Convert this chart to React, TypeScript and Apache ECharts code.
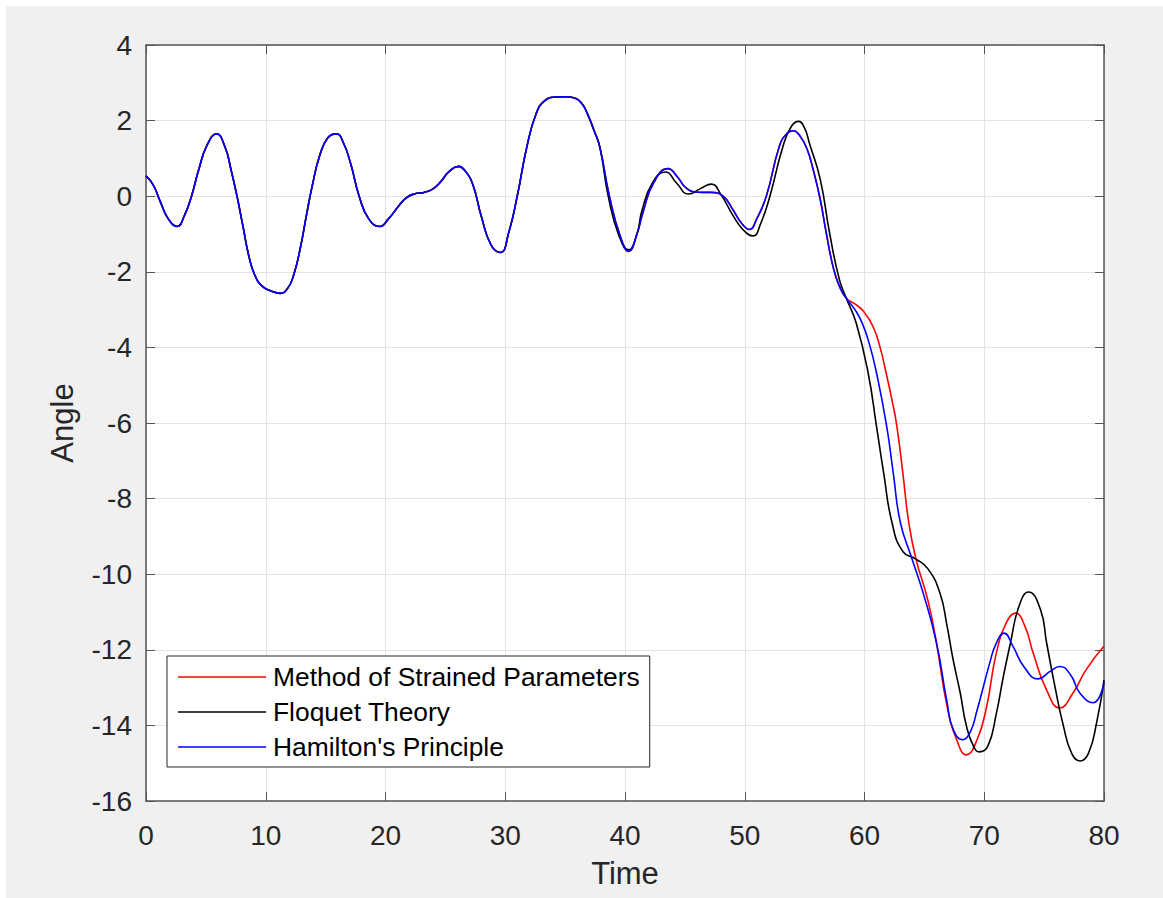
import React, { useEffect, useRef } from "react";
import * as echarts from "echarts";

// ---- data (time, angle) ----
const sharedHead: [number, number][] = [
  [0, 0.54], [0.6, 0.3], [1.2, -0.15], [1.9, -0.62], [2.6, -0.8], [3.2, -0.52], [3.8, 0.0],
  [4.4, 0.7], [5.1, 1.35], [5.9, 1.65], [6.6, 1.3], [7.1, 0.7], [7.6, 0.0], [8.1, -0.8],
  [8.6, -1.6], [9.1, -2.1], [9.7, -2.38], [10.4, -2.5], [11.2, -2.57], [11.8, -2.45],
  [12.3, -2.12], [12.9, -1.35], [13.4, -0.5], [13.9, 0.3], [14.5, 1.07], [15.2, 1.55],
  [15.9, 1.65], [16.5, 1.4], [17.1, 0.85], [17.8, 0.0], [18.6, -0.6], [19.5, -0.8],
  [20.3, -0.58], [21.0, -0.3], [21.7, -0.05], [22.4, 0.06], [23.2, 0.1], [23.9, 0.18],
  [24.6, 0.38], [25.3, 0.65], [26.1, 0.79], [26.7, 0.65], [27.3, 0.3], [28.0, -0.53],
  [28.8, -1.28], [29.6, -1.49], [30.3, -0.95], [31.0, 0.0], [31.8, 1.3], [32.6, 2.2],
  [33.3, 2.53], [34.1, 2.62], [35.0, 2.63], [35.8, 2.6], [36.4, 2.45], [36.9, 2.15],
  [37.4, 1.75], [37.9, 1.3],
];

const strainedHamiltonMid: [number, number][] = [
  [38.7, 0.0], [39.6, -1.05], [40.3, -1.46], [41.0, -1.0], [41.5, -0.43], [42.4, 0.36],
  [43.6, 0.73], [44.4, 0.5], [45.0, 0.25], [45.8, 0.11], [46.5, 0.1], [47.2, 0.1],
  [48.2, 0.0], [49.0, -0.35], [49.7, -0.7], [50.4, -0.88], [51.0, -0.6], [51.8, 0.0],
  [52.9, 1.33], [53.5, 1.65], [54.05, 1.73], [54.6, 1.6], [55.2, 1.25], [55.7, 0.72],
  [56.3, -0.08], [56.8, -0.96], [57.4, -1.9], [57.9, -2.38], [58.5, -2.71],
];

const strainedTail: [number, number][] = [
  [59.2, -2.85], [59.9, -3.04], [60.7, -3.44], [61.3, -4.0], [61.8, -4.67], [62.3, -5.4],
  [62.7, -6.08], [63.2, -7.32], [63.7, -8.64], [64.3, -9.6], [65.3, -10.7], [66.0, -11.8],
  [66.9, -13.5], [67.7, -14.38], [68.5, -14.78], [69.4, -14.38], [70.2, -13.5], [71.0, -12.1],
  [71.9, -11.25], [72.6, -11.03], [73.4, -11.38], [74.1, -12.1], [75.2, -13.06], [76.3, -13.54],
  [77.4, -13.15], [78.5, -12.53], [80, -11.9],
];

const hamiltonTail: [number, number][] = [
  [59.2, -3.0], [59.8, -3.35], [60.4, -3.9], [61.0, -4.67], [61.85, -6.08], [62.4, -7.32],
  [63.0, -8.64], [63.9, -9.53], [64.9, -10.5], [66.0, -11.8], [66.9, -13.4], [67.4, -14.1],
  [68.2, -14.38], [68.8, -14.2], [69.4, -13.6], [70.5, -12.3], [71.0, -11.83], [71.65, -11.56],
  [72.4, -11.91], [73.3, -12.44], [74.5, -12.77], [75.5, -12.57], [76.3, -12.44], [77.2, -12.66],
  [78.0, -13.15], [79.1, -13.4], [80, -12.88],
];

const floquetTail: [number, number][] = [
  [38.6, 0.0], [39.5, -1.05], [40.3, -1.42], [41.0, -1.0], [41.4, -0.4], [42.3, 0.36],
  [43.4, 0.64], [44.3, 0.35], [45.3, 0.06], [46.3, 0.2], [47.2, 0.32], [48.0, 0.05],
  [49.0, -0.5], [49.9, -0.9], [50.7, -1.05], [51.3, -0.75], [52.1, 0.0], [53.2, 1.33],
  [53.9, 1.85], [54.5, 1.98], [55.0, 1.8], [55.4, 1.4], [56.3, 0.45], [57.1, -1.0],
  [57.9, -2.2], [58.5, -2.71], [59.3, -3.35], [60.3, -4.67], [61.0, -6.08], [61.6, -7.32],
  [62.3, -8.64], [63.2, -9.4], [64.3, -9.6], [65.3, -9.86], [66.3, -10.5], [66.9, -11.38],
  [67.4, -12.26], [68.0, -13.15], [68.5, -14.0], [69.1, -14.55], [69.6, -14.7], [70.3, -14.55],
  [71.0, -13.7], [71.6, -12.7], [72.2, -11.8], [72.9, -10.85], [73.7, -10.47], [74.7, -10.94],
  [75.2, -11.8], [75.9, -12.97], [76.6, -14.0], [77.3, -14.74], [78.0, -14.94], [78.7, -14.74],
  [79.4, -13.9], [80, -12.8],
];

const seriesNames = ["Method of Strained Parameters", "Floquet Theory", "Hamilton's Principle"];
const seriesColors = ["#ff0000", "#000000", "#0000ff"];

const FONT = "'Liberation Sans', Arial, Helvetica, sans-serif";
const AXIS_COLOR = "#555555";
const TEXT_COLOR = "#262626";

export default function App() {
  const ref = useRef<HTMLDivElement>(null);

  useEffect(() => {
    if (!ref.current) return;
    const chart = echarts.init(ref.current, undefined, { renderer: "svg" });

    const seriesData = [
      [...sharedHead, ...strainedHamiltonMid, ...strainedTail],
      [...sharedHead, ...floquetTail],
      [...sharedHead, ...strainedHamiltonMid, ...hamiltonTail],
    ];

    const axisCommon = {
      type: "value" as const,
      axisLine: { show: true, onZero: false, lineStyle: { color: AXIS_COLOR, width: 1.5 } },
      axisTick: { show: true, inside: true, length: 9, lineStyle: { color: AXIS_COLOR, width: 1 } },
    };

    chart.setOption({
      animation: false,
      backgroundColor: "#f0f0f0",
      textStyle: { fontFamily: FONT },
      graphic: [
        { type: "rect", shape: { x: 0, y: 0, width: 1163, height: 6 }, style: { fill: "#ffffff" }, silent: true },
        { type: "rect", shape: { x: 0, y: 0, width: 6, height: 898 }, style: { fill: "#ffffff" }, silent: true },
      ],
      grid: {
        left: 146,
        right: 59,
        top: 45,
        bottom: 97,
        show: true,
        backgroundColor: "#ffffff",
        borderWidth: 0,
      },
      legend: {
        orient: "vertical",
        left: 167,
        top: 656,
        padding: [6, 10, 5, 11],
        itemGap: 5,
        itemWidth: 88,
        itemHeight: 1.4,
        icon: "rect",
        backgroundColor: "#ffffff",
        borderColor: "#262626",
        borderWidth: 1,
        borderRadius: 0,
        data: seriesNames,
        textStyle: { fontSize: 26.4, lineHeight: 30, color: "#000000", fontFamily: FONT, padding: [0, 0, 0, 2] },
      },
      xAxis: [
        {
          ...axisCommon,
          position: "bottom",
          min: 0,
          max: 80,
          interval: 10,
          name: "Time",
          nameLocation: "middle",
          nameGap: 57,
          nameTextStyle: { fontSize: 31, color: TEXT_COLOR, fontFamily: FONT },
          axisLabel: { fontSize: 28, color: TEXT_COLOR, margin: 20, fontFamily: FONT },
          splitLine: { show: true, lineStyle: { color: "#e3e3e3", width: 1 } },
        },
        {
          ...axisCommon,
          position: "top",
          min: 0,
          max: 80,
          interval: 10,
          axisLabel: { show: false },
          splitLine: { show: false },
        },
      ],
      yAxis: [
        {
          ...axisCommon,
          position: "left",
          min: -16,
          max: 4,
          interval: 2,
          name: "Angle",
          nameLocation: "middle",
          nameGap: 68,
          nameTextStyle: { fontSize: 31, color: TEXT_COLOR, fontFamily: FONT },
          axisLabel: { fontSize: 28, color: TEXT_COLOR, margin: 14, fontFamily: FONT },
          splitLine: { show: true, lineStyle: { color: "#e3e3e3", width: 1 } },
        },
        {
          ...axisCommon,
          position: "right",
          min: -16,
          max: 4,
          interval: 2,
          axisLabel: { show: false },
          splitLine: { show: false },
        },
      ],
      series: seriesNames.map((name, i) => ({
        name,
        type: "line",
        data: seriesData[i],
        smooth: 0.5,
        symbol: "none",
        showSymbol: false,
        z: 2 + i,
        lineStyle: { color: seriesColors[i], width: 1.6 },
        itemStyle: { color: seriesColors[i] },
        emphasis: { disabled: true },
      })),
    });

    return () => {
      chart.dispose();
    };
  }, []);

  return (
    <div
      ref={ref}
      style={{ position: "fixed", left: 0, top: 0, width: 1163, height: 898 }}
    />
  );
}
